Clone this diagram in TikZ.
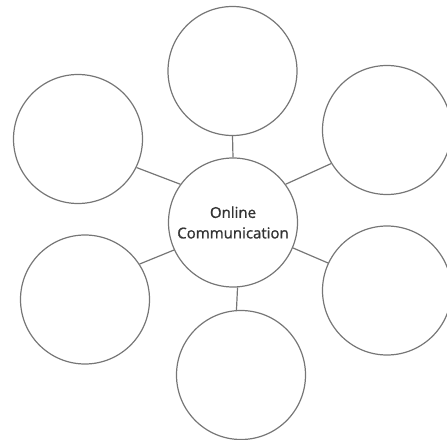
\documentclass[tikz,border=0pt]{standalone}
\usepackage{fontspec}
\usepackage{xcolor}
\usepackage{tikz}
\newfontfamily\labelfont[FakeBold=1.2]{Open Sans}
\definecolor{ringgray}{HTML}{767676}
\definecolor{textgray}{HTML}{333333}
\tikzset{%
  every bubble/.style={
    circle,
    draw=ringgray,
    line width=1.2pt,
    inner sep=0pt,
    minimum size=129pt
  },
  spoke/.style={
    draw=ringgray,
    line width=1.2pt
  },
}

\begin{document}
\begin{tikzpicture}[x=1pt, y=-1pt]
        \useasboundingbox (0,0) rectangle (447,439);

        \node [every bubble, align=center, text=textgray,
          font=\labelfont\fontsize{15}{20.5}\selectfont] (hub) at (233,222.5)
          {Online\\Communication};

        \foreach \x/\y [count=\i] in {232.5/71, 387/130, 387/290.5, 241/375, 85/299.5, 78/139}
          \node [every bubble] (leaf-\i) at (\x,\y) {};

        \foreach \a/\b [count=\i] in {90/270, 36/211, -23/155, -86/94, 205/33, 144/-26}
          \draw [spoke] (hub.\a) -- (leaf-\i.\b);
\end{tikzpicture}
\end{document}
